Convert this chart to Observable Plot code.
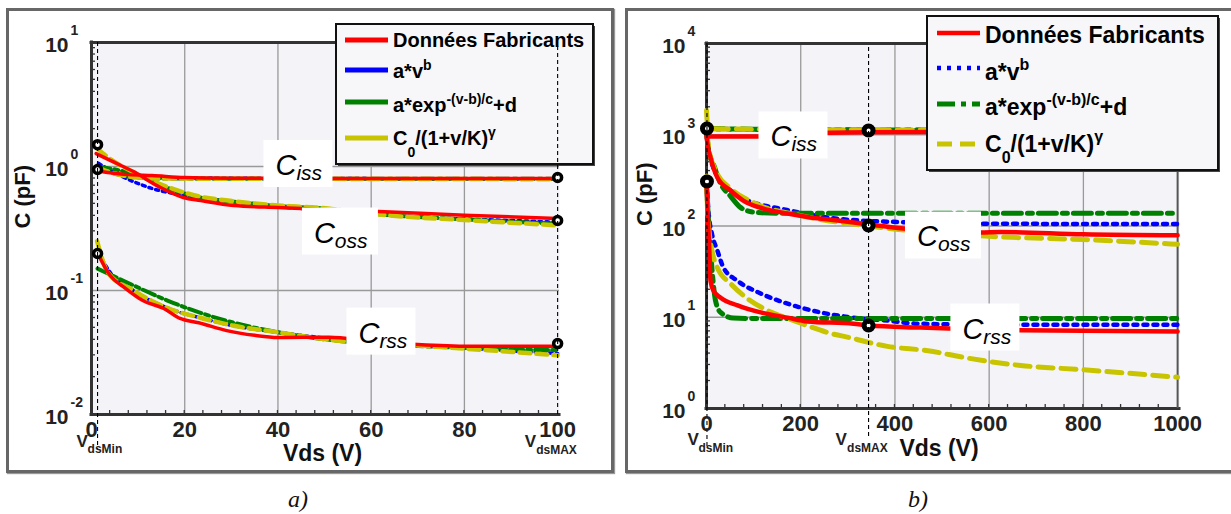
<!DOCTYPE html>
<html><head><meta charset="utf-8">
<script src="https://cdn.jsdelivr.net/npm/d3@7"></script>
<script src="https://cdn.jsdelivr.net/npm/@observablehq/plot@0.6"></script>
<style>
html,body{margin:0;padding:0;background:#fff;width:1231px;height:514px;overflow:hidden;}
#root{position:relative;width:1231px;height:514px;font-family:"Liberation Sans",Arial,sans-serif;}
.panel{position:absolute;box-sizing:border-box;border:3px solid #676767;box-shadow:1px 1px 1px #999;}
.cap{position:absolute;font-family:"Liberation Serif","Times New Roman",serif;font-style:italic;font-size:24px;line-height:24px;color:#111;}
</style></head><body><div id="root">
<div class="panel" style="left:6px;top:8px;width:608px;height:465px"></div>
<div class="panel" style="left:625px;top:8px;width:620px;height:465px"></div>
<div class="cap" style="left:288px;top:487px">a)</div>
<div class="cap" style="left:908px;top:487px">b)</div>
</div>
<script>
// ---------------- DATA (Vds in V, capacitance in pF) ----------------
// Panel a)
const a_Ciss_data = [[1,0.93],[4,0.89],[8,0.86],[13,0.845],[20,0.815],[30,0.805],[50,0.80],[70,0.80],[100,0.80]];
const a_Ciss_pow  = [[1.3,0.97],[5,0.88],[10,0.83],[20,0.81],[50,0.80],[100,0.795]];
const a_Ciss_exp  = [[1.3,0.98],[4,0.9],[9,0.82],[15,0.80],[50,0.795],[100,0.795]];
const a_Ciss_cj   = [[1.3,0.98],[4,0.9],[9,0.82],[15,0.80],[50,0.795],[100,0.79]];
const a_Coss_data = [[1,1.27],[4,1.12],[9,0.91],[14.8,0.677],[19.7,0.5625],[23.4,0.532],[30.5,0.485],[40,0.467],[45,0.459],[52,0.445],[61.6,0.433],[80,0.405],[100,0.38]];
const a_Coss_pow  = [[1.5,1.06],[7,0.815],[13,0.665],[20.6,0.58],[35,0.50],[40,0.475],[50,0.445],[68,0.395],[96,0.36],[100,0.355]];
const a_Coss_exp  = [[1.3,1.0],[9,0.87],[16,0.68],[23.5,0.56],[30.5,0.52],[40,0.48],[48,0.463],[64,0.405],[80,0.375],[100,0.345]];
const a_Coss_cj   = [[1.2,1.4],[4,1.15],[9,0.9],[16,0.69],[23.5,0.57],[30.5,0.525],[40,0.485],[48,0.467],[64,0.402],[80,0.37],[100,0.335]];
const a_Crss_data = [[1.3,0.2],[4,0.132],[7,0.106],[11,0.083],[15.5,0.0716],[19,0.0595],[23,0.055],[29,0.0475],[35,0.0435],[40,0.0418],[51,0.042],[60,0.039],[70,0.0367],[81,0.0355],[100,0.0355]];
const a_Crss_pow  = [[1.5,0.2],[4,0.14],[9,0.1],[16,0.073],[23.5,0.06],[30.5,0.052],[40,0.046],[51,0.041],[70,0.036],[85,0.0335],[100,0.031]];
const a_Crss_exp  = [[1.3,0.15],[9,0.11],[16.3,0.083],[23.4,0.066],[30.5,0.055],[40,0.046],[51,0.04],[69,0.0359],[92,0.0334],[100,0.033]];
const a_Crss_cj   = [[1.2,0.25],[3.5,0.14],[9,0.1],[16,0.073],[23.5,0.06],[30.5,0.052],[40,0.046],[51,0.04],[70,0.036],[85,0.033],[100,0.03]];
const a_markers   = [[1.3,1.5],[1.3,0.946],[1.3,0.199],[100,0.815],[100,0.367],[100,0.0373]];
const a_labels    = [{sub:"iss", v:44.4, c:1.047}, {sub:"oss", v:53.4, c:0.299}, {sub:"rss", v:62.2, c:0.0466}];
const a_vmin = 1.3, a_vmax = 100;
const a_xTicks = [0,20,40,60,80,100];
const a_yExps  = [-2,-1,0,1];

// Panel b)
const b_Ciss_data = [[0,990],[5,955],[100,955],[150,975],[260,1055],[344,1065],[600,1075],[1000,1080]];
const b_Ciss_pow  = [[0,1160],[100,1145],[344,1130],[1000,1120]];
const b_Ciss_exp  = [[0,1170],[100,1150],[344,1130],[1000,1120]];
const b_Ciss_cj   = [[0,1850],[2,1300],[5,1170],[100,1150],[344,1130],[1000,1120]];
const b_Coss_data = [[0,1000],[2,800],[8.5,563],[23,340],[51,245],[78,190],[121,155],[172,137],[221,124],[278,115],[344,104],[418,94],[500,88],[581,85],[624,86],[800,81],[1000,79]];
const b_Coss_pow  = [[0,1000],[5,650],[15,430],[30,320],[66,215],[100,180],[157,155],[278,120],[418,110],[581,106],[1000,105]];
const b_Coss_exp  = [[0,1100],[5,650],[15,470],[30,290],[50,215],[72,160],[100,142],[150,138],[1000,138]];
const b_Coss_cj   = [[0,1100],[5,700],[20,400],[50,260],[100,180],[200,130],[344,100],[600,77],[800,71],[1000,63]];
const b_Crss_data = [[0,300],[3,120],[6,54],[8.5,25],[15,19.5],[30,16.4],[66,13.5],[115,11.3],[172,9.9],[214,9.0],[312,8.5],[344,8.1],[454,7.7],[666,7.2],[1000,7.0]];
const b_Crss_pow  = [[0,300],[5,130],[12,80],[23,54],[36,35],[66,25],[115,18.2],[172,14.1],[242,11.3],[312,9.9],[384,9.2],[450,8.5],[600,8.3],[1000,8.3]];
const b_Crss_exp  = [[0,300],[4,120],[8,60],[13,28],[19,15.3],[30,11.3],[57,9.8],[100,9.7],[1000,9.7]];
const b_Crss_cj   = [[0,350],[3,120],[8,70],[23,35],[51,23.4],[87,16],[129,11.9],[172,9.7],[214,8.1],[257,6.8],[312,5.85],[344,5.3],[384,4.8],[470,4.3],[550,3.6],[667,2.96],[794,2.67],[1000,2.2]];
const b_markers   = [[1,1170],[1,307],[344,1115],[344,101],[344,8.1]];
const b_labels    = [{sub:"iss", v:184.7, c:982}, {sub:"oss", v:503, c:78.7}, {sub:"rss", v:592, c:7.72}];
const b_vmin = 1, b_vmax = 344;
const b_xTicks = [0,200,400,600,800,1000];
const b_yExps  = [0,1,2,3,4];

// Legend entries: [text, kind] segments
const legendRows = [
  [["Données Fabricants"]],
  [["a*v"],["b","sup"]],
  [["a*exp"],["-(v-b)/c","sup"],["+d"]],
  [["C"],["0","sub"],["/(1+v/K)"],["γ","sup"]]
];
const xTitle = "Vds (V)", yTitle = "C (pF)";

// ---------------- STYLES ----------------
const FONT = '"Liberation Sans", Arial, Helvetica, sans-serif';
const COL = {data:"#ff0000", pow:"#0000ff", exp:"#008000", cj:"#c8c400"};
const styleA = {
  data:{stroke:COL.data, w:3.5, dash:null},
  pow:{stroke:COL.pow, w:3.5, dash:"3,4"},
  exp:{stroke:COL.exp, w:4, dash:"13,4,4,4"},
  cj:{stroke:COL.cj, w:4.5, dash:"11,6"}
};
const styleB = {
  data:{stroke:COL.data, w:4.5, dash:null},
  pow:{stroke:COL.pow, w:4.5, dash:"4,6"},
  exp:{stroke:COL.exp, w:5, dash:"18,6,5,6"},
  cj:{stroke:COL.cj, w:5, dash:"15,8"}
};

function rows(pairs, cap) { return pairs.map(([v,c]) => ({v, c, cap})); }
function sc(scales, k) { return typeof scales[k] === "function" ? scales[k] : scales.scales[k].apply; }

function minorTicksMark(xMinor, yMinor) {
  return (index, scales, values, dims) => {
    const x = sc(scales,"x"), y = sc(scales,"y");
    const g = d3.create("svg:g").attr("stroke","#333").attr("stroke-width",1.3);
    const x0 = dims.marginLeft, yb = dims.height - dims.marginBottom;
    for (const t of yMinor) g.append("line").attr("x1",x0).attr("x2",x0+4).attr("y1",y(t)).attr("y2",y(t));
    for (const t of xMinor) g.append("line").attr("x1",x(t)).attr("x2",x(t)).attr("y1",yb).attr("y2",yb-4);
    return g.node();
  };
}

function labelBoxesMark(labels) {
  return (index, scales) => {
    const x = sc(scales,"x"), y = sc(scales,"y");
    const g = d3.create("svg:g");
    for (const L of labels) {
      const w = L.sub === "oss" ? 76 : 69, h = 47;
      const cx = x(L.v), cy = y(L.c);
      g.append("rect").attr("x",cx-w/2).attr("y",cy-h/2).attr("width",w).attr("height",h).attr("fill","#fff");
      const t = g.append("text").attr("x",cx-w/2+12).attr("y",cy-h/2+35).attr("text-anchor","start")
        .attr("font-family",FONT).attr("font-style","italic").attr("fill","#000");
      t.append("tspan").attr("font-size",29).text("C");
      t.append("tspan").attr("font-size",21).attr("dy",5).text(L.sub);
    }
    return g.node();
  };
}

function legendMark(spec, styles) {
  return () => {
    const g = d3.create("svg:g");
    g.append("rect").attr("x",spec.x+2).attr("y",spec.y+2).attr("width",spec.w).attr("height",spec.h).attr("fill","#444");
    g.append("rect").attr("x",spec.x).attr("y",spec.y).attr("width",spec.w).attr("height",spec.h)
      .attr("fill","#f7f7f9").attr("stroke","#111").attr("stroke-width",2);
    const keys = ["data","pow","exp","cj"];
    legendRows.forEach((segs, i) => {
      const st = styles[keys[i]];
      g.append("line").attr("x1",spec.lx1).attr("x2",spec.lx2).attr("y1",spec.ly[i]).attr("y2",spec.ly[i])
        .attr("stroke",st.stroke).attr("stroke-width", spec.solid ? 5 : st.w)
        .attr("stroke-dasharray", spec.solid ? null : st.dash);
      const base = spec.base[i];
      const t = g.append("text").attr("x",spec.tx).attr("y",base).attr("text-anchor","start").attr("font-family",FONT)
        .attr("font-weight","bold").attr("font-size",spec.fs).attr("fill","#000");
      let prevShift = 0;
      for (const [s, kind] of segs) {
        const shift = kind === "sup" ? -spec.supShift : kind === "sub" ? spec.subShift : 0;
        const ts = t.append("tspan").text(s).attr("dy", shift - prevShift);
        if (kind) ts.attr("font-size", spec.fsSmall);
        prevShift = shift;
      }
    });
    return g.node();
  };
}

function makePanel(cfg) {
  const S = cfg.styles;
  const marks = [
    Plot.frame({fill:"#f4f4f8", stroke:"none"}),
    Plot.ruleX(cfg.xGrid, {stroke:"#999", strokeWidth:1.3}),
    Plot.ruleY(cfg.yGrid, {stroke:"#999", strokeWidth:1.3}),
    minorTicksMark(cfg.xMinor, cfg.yMinor),
    Plot.ruleY([cfg.yDomain[1]], {stroke:"#333", strokeWidth:3, strokeLinecap:"square"}),
    Plot.ruleY([cfg.yDomain[0]], {stroke:"#333", strokeWidth:3, strokeLinecap:"square"}),
    Plot.ruleX([cfg.xDomain[0]], {stroke:"#333", strokeWidth:3, strokeLinecap:"square"}),
  ];
  if (cfg.rightEdge != null) marks.push(Plot.ruleX([cfg.rightEdge], {stroke:"#555", strokeWidth:2}));
  for (const m of ["pow","exp","cj","data"]) {
    marks.push(Plot.line(cfg.series[m], {x:"v", y:"c", z:"cap", stroke:S[m].stroke, strokeWidth:S[m].w,
      strokeDasharray:S[m].dash, curve:"monotone-x", strokeLinejoin:"round"}));
  }
  marks.push(
    Plot.dot(cfg.markers, {x:d=>d[0], y:d=>d[1], r:cfg.dotR, stroke:"#000", strokeWidth:cfg.dotW, fill:"#fff"}),
    labelBoxesMark(cfg.labels),
    legendMark(cfg.legend, S),
    Plot.ruleX([cfg.vmin], {stroke:"#000", strokeWidth:1.1, strokeDasharray:"4,3", insetBottom:cfg.vminExt}),
    Plot.ruleX([cfg.vmax], {stroke:"#000", strokeWidth:1.1, strokeDasharray:"4,3", insetBottom:cfg.vmaxExt, insetTop:4}),
    // tick labels
    Plot.text(cfg.xTicks, {x:d=>d, text:d=>String(d), frameAnchor:"bottom", dy:22, fontSize:22, fontWeight:"bold", fill:"#222"}),
    Plot.text(cfg.yExps, {y:d=>10**d, text:()=> "10", frameAnchor:"left", textAnchor:"end", dx:cfg.tenDx, dy:3, fontSize:21, fontWeight:"bold", fill:"#222"}),
    Plot.text(cfg.yExps, {y:d=>10**d, text:d=>String(d), frameAnchor:"left", textAnchor:"start", dx:cfg.tenDx+2, dy:-11.5, fontSize:14, fontWeight:"bold", fill:"#222"}),
    // axis titles
    Plot.text([xTitle], {text:d=>d, frameAnchor:"bottom", dx:cfg.xTitleDx, dy:cfg.xTitleDy, fontSize:23, fontWeight:"bold", fill:"#111"}),
    Plot.text([yTitle], {text:d=>d, frameAnchor:"left", rotate:-90, dx:cfg.yTitleDx, dy:0, fontSize:22, fontWeight:"bold", fill:"#111"}),
    // V_dsMin / V_dsMAX
    Plot.text([cfg.vmin], {x:d=>d, text:()=> "V", frameAnchor:"bottom", textAnchor:"start", dx:cfg.vlab.minV, dy:cfg.vlab.dyV, fontSize:17, fontWeight:"bold", fill:"#222"}),
    Plot.text([cfg.vmin], {x:d=>d, text:()=> "dsMin", frameAnchor:"bottom", textAnchor:"start", dx:cfg.vlab.minS, dy:cfg.vlab.dyS, fontSize:12, fontWeight:"bold", fill:"#222"}),
    Plot.text([cfg.vmax], {x:d=>d, text:()=> "V", frameAnchor:"bottom", textAnchor:"start", dx:-33, dy:cfg.vlab.dyV, fontSize:17, fontWeight:"bold", fill:"#222"}),
    Plot.text([cfg.vmax], {x:d=>d, text:()=> "dsMAX", frameAnchor:"bottom", textAnchor:"start", dx:-21.5, dy:cfg.vlab.dyS2, fontSize:12, fontWeight:"bold", fill:"#222"})
  );
  const svg = Plot.plot({
    width: cfg.width, height: 514,
    marginTop: cfg.margin[0], marginRight: cfg.margin[1], marginBottom: cfg.margin[2], marginLeft: cfg.margin[3],
    x: {domain: cfg.xDomain, axis: null},
    y: {type: "log", domain: cfg.yDomain, axis: null},
    style: {background: "transparent", overflow: "visible", fontFamily: FONT},
    marks
  });
  svg.style.position = "absolute";
  svg.style.left = cfg.left + "px";
  svg.style.top = "0px";
  svg.style.maxWidth = "none";
  document.getElementById("root").appendChild(svg);
}

function logMinor(e0, e1) { const out = []; for (let e = e0; e < e1; e++) for (let k = 2; k <= 9; k++) out.push(k * 10**e); return out; }
function linMinor(step, max) { const out = []; for (let v = step; v < max; v += step) out.push(v); return out; }

makePanel({
  left: 0, width: 620, margin: [42, 61, 100, 91],
  xDomain: [0, 100.4], yDomain: [0.01, 10],
  styles: styleA, dotR: 4, dotW: 3.5,
  series: {
    data: [...rows(a_Ciss_data,"iss"), ...rows(a_Coss_data,"oss"), ...rows(a_Crss_data,"rss")],
    pow:  [...rows(a_Ciss_pow,"iss"),  ...rows(a_Coss_pow,"oss"),  ...rows(a_Crss_pow,"rss")],
    exp:  [...rows(a_Ciss_exp,"iss"),  ...rows(a_Coss_exp,"oss"),  ...rows(a_Crss_exp,"rss")],
    cj:   [...rows(a_Ciss_cj,"iss"),   ...rows(a_Coss_cj,"oss"),   ...rows(a_Crss_cj,"rss")]
  },
  xGrid: [20,40,60,80], yGrid: [0.1, 1],
  xMinor: linMinor(4, 100), yMinor: logMinor(-2, 1),
  markers: a_markers, labels: a_labels,
  vmin: a_vmin, vmax: a_vmax, vminExt: -36, vmaxExt: -2,
  xTicks: a_xTicks, yExps: a_yExps, tenDx: -23,
  xTitleDx: -3, xTitleDy: 46.6, yTitleDx: -69,
  vlab: {minV: -21, minS: -10, dyV: 32.9, dyS: 38.2, dyS2: 39.2},
  legend: {x:336, y:24, w:257, h:140, lx1:345, lx2:388, tx:393, ly:[40,70,102,138], base:[47,78,112,145],
           fs:20, fsSmall:14, supShift:8, subShift:12, solid:true}
});

makePanel({
  left: 620, width: 611, margin: [43, 52, 106, 86],
  xDomain: [0, 1004], yDomain: [1, 10000],
  styles: styleB, dotR: 4.5, dotW: 5,
  series: {
    data: [...rows(b_Ciss_data,"iss"), ...rows(b_Coss_data,"oss"), ...rows(b_Crss_data,"rss")],
    pow:  [...rows(b_Ciss_pow,"iss"),  ...rows(b_Coss_pow,"oss"),  ...rows(b_Crss_pow,"rss")],
    exp:  [...rows(b_Ciss_exp,"iss"),  ...rows(b_Coss_exp,"oss"),  ...rows(b_Crss_exp,"rss")],
    cj:   [...rows(b_Ciss_cj,"iss"),   ...rows(b_Coss_cj,"oss"),   ...rows(b_Crss_cj,"rss")]
  },
  xGrid: [200,400,600,800], yGrid: [10, 100, 1000], rightEdge: 1000,
  xMinor: linMinor(40, 1000), yMinor: logMinor(0, 4),
  markers: b_markers, labels: b_labels,
  vmin: b_vmin, vmax: b_vmax, vminExt: -39, vmaxExt: -30,
  xTicks: b_xTicks, yExps: b_yExps, tenDx: -21,
  xTitleDx: -4, xTitleDy: 47.6, yTitleDx: -62,
  vlab: {minV: -19.5, minS: -8.5, dyV: 36.9, dyS: 43.2, dyS2: 43.2},
  legend: {x:307, y:16, w:291, h:154, lx1:317, lx2:360, tx:365, ly:[33,68,104,144], base:[43,80,115,152],
           fs:23, fsSmall:16, supShift:10, subShift:11, solid:false}
});
</script>
</body></html>
